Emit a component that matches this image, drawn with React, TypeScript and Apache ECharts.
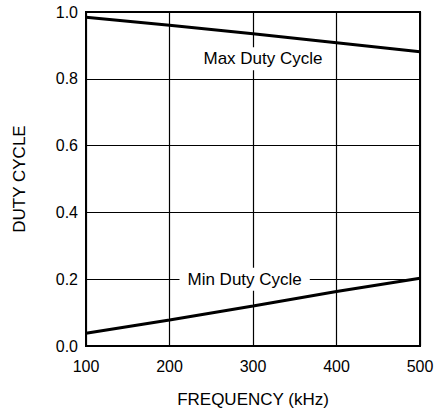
import React, { useEffect, useRef } from "react";
import * as echarts from "echarts";

const frequencies = [100, 200, 300, 400, 500];
const maxDuty = [0.984, 0.96, 0.935, 0.908, 0.881];
const minDuty = [0.038, 0.078, 0.12, 0.163, 0.203];
const yTicks = [0, 0.2, 0.4, 0.6, 0.8, 1.0];
const maxLabel = { text: "Max Duty Cycle", at: [312, 0.86] };
const minLabel = { text: "Min Duty Cycle", at: [290, 0.2] };

const FONT = "'Liberation Sans', Arial, Helvetica, sans-serif";

export default function App() {
  const ref = useRef<HTMLDivElement>(null);
  useEffect(() => {
    const chart = echarts.init(ref.current!, null, { renderer: "svg" });
    const mkLabel = (l: { text: string; at: number[] }) => ({
      symbol: "circle",
      symbolSize: 1,
      itemStyle: { color: "rgba(0,0,0,0)" },
      silent: true,
      data: [
        {
          coord: l.at,
          label: {
            show: true,
            position: "inside",
            formatter: l.text,
            color: "#000",
            fontFamily: FONT,
            fontSize: 17,
            backgroundColor: "#fff",
            padding: [3, 8],
          },
        },
      ],
    });
    chart.setOption({
      animation: false,
      backgroundColor: "#fff",
      grid: {
        left: 86,
        right: 17,
        top: 12,
        bottom: 71,
        show: true,
        borderColor: "#000",
        borderWidth: 2,
      },
      xAxis: {
        type: "value",
        min: 100,
        max: 500,
        interval: 100,
        name: "FREQUENCY (kHz)",
        nameLocation: "middle",
        nameGap: 45,
        nameTextStyle: { fontFamily: FONT, fontSize: 17, color: "#000" },
        axisLine: { show: true, lineStyle: { color: "#000", width: 2 } },
        axisTick: { show: false },
        axisLabel: { fontFamily: FONT, fontSize: 16, color: "#000", margin: 12 },
        splitLine: { show: true, lineStyle: { color: "#000", width: 1.2 } },
      },
      yAxis: {
        type: "value",
        min: 0,
        max: 1,
        interval: 0.2,
        name: "DUTY CYCLE",
        nameLocation: "middle",
        nameGap: 58,
        nameTextStyle: { fontFamily: FONT, fontSize: 17, color: "#000" },
        axisLine: { show: true, lineStyle: { color: "#000", width: 2 } },
        axisTick: { show: false },
        axisLabel: {
          fontFamily: FONT,
          fontSize: 16,
          color: "#000",
          margin: 8,
          formatter: (v: number) => {
            const t = yTicks.find((x) => Math.abs(x - v) < 1e-6);
            return (t ?? v).toFixed(1);
          },
        },
        splitLine: { show: true, lineStyle: { color: "#000", width: 1.2 } },
      },
      series: [
        {
          type: "line",
          data: frequencies.map((f, i) => [f, maxDuty[i]]),
          showSymbol: false,
          lineStyle: { color: "#000", width: 3 },
          markPoint: mkLabel(maxLabel),
          z: 3,
        },
        {
          type: "line",
          data: frequencies.map((f, i) => [f, minDuty[i]]),
          showSymbol: false,
          lineStyle: { color: "#000", width: 3 },
          markPoint: mkLabel(minLabel),
          z: 3,
        },
      ],
    });
    return () => chart.dispose();
  }, []);
  return <div ref={ref} style={{ width: 437, height: 417, position: "absolute", left: 0, top: 0 }} />;
}
